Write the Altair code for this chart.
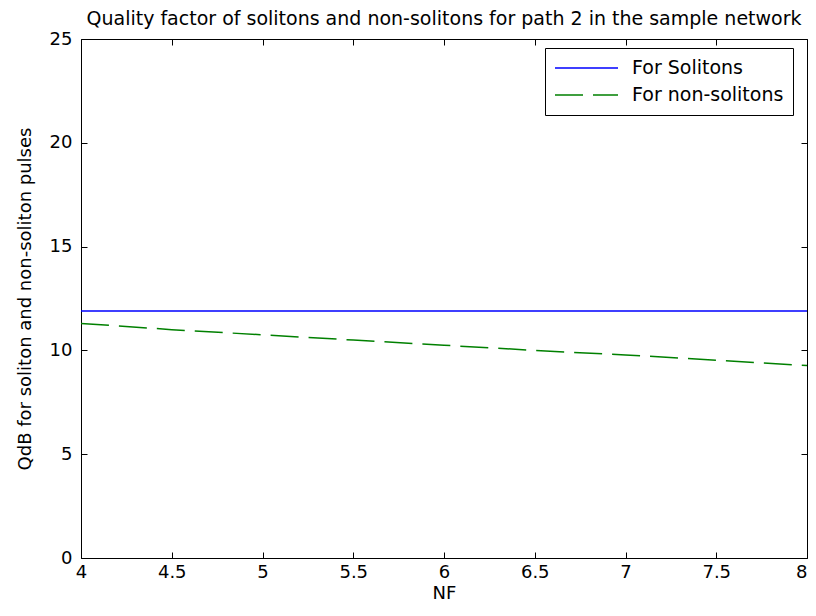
import altair as alt
import pandas as pd

nf = [4, 4.5, 5, 5.5, 6, 6.5, 7, 7.5, 8]
q_solitons = [11.9, 11.9, 11.9, 11.9, 11.9, 11.9, 11.9, 11.9, 11.9]
q_non_solitons = [11.3, 11.0, 10.75, 10.5, 10.25, 10.0, 9.78, 9.53, 9.27]
series_names = ["For Solitons", "For non-solitons"]
x_ticks = [4, 4.5, 5, 5.5, 6, 6.5, 7, 7.5, 8]
y_ticks = [0, 5, 10, 15, 20, 25]

rows = []
for x, v in zip(nf, q_solitons):
    rows.append({"NF": x, "Q": v, "series": series_names[0]})
for x, v in zip(nf, q_non_solitons):
    rows.append({"NF": x, "Q": v, "series": series_names[1]})
df = pd.DataFrame(rows)

FONT = "DejaVu Sans"

legend = alt.Legend(
    title=None, orient="none", legendX=464, legendY=9,
    strokeColor="black", fillColor="white", padding=9,
    symbolType="stroke", symbolSize=3969, symbolStrokeWidth=1.5,
    labelFont=FONT, labelFontSize=19, labelColor="black",
    labelOffset=13, clipHeight=22, rowPadding=5, cornerRadius=0,
)

xs = alt.Scale(domain=[4, 8], nice=False, zero=False)
ys = alt.Scale(domain=[0, 25], nice=False)

lines = alt.Chart(df).mark_line(strokeWidth=1.5).encode(
    x=alt.X("NF:Q", scale=xs, title="NF", axis=alt.Axis(
        values=x_ticks, format="~g", offset=-6, tickSize=6, domain=False, grid=False,
        tickColor="black", labelColor="black", labelFont=FONT, labelFontSize=18,
        labelPadding=5, titleFont=FONT, titleFontSize=18, titleFontWeight="normal",
        titleColor="black", titlePadding=3, labelFlush=False,
        labelAlign=alt.condition("datum.value >= 8", alt.value("right"), alt.value("center")))),
    y=alt.Y("Q:Q", scale=ys, title="QdB for soliton and non-soliton pulses", axis=alt.Axis(
        values=y_ticks, offset=-6, tickSize=6, domain=False, grid=False,
        tickColor="black", labelColor="black", labelFont=FONT, labelFontSize=18,
        labelPadding=9, titleFont=FONT, titleFontSize=18, titleFontWeight="normal",
        titleColor="black", titlePadding=15)),
    color=alt.Color("series:N", scale=alt.Scale(domain=series_names, range=["#0000ff", "#008000"]), legend=legend),
    strokeDash=alt.StrokeDash("series:N", scale=alt.Scale(domain=series_names, range=[[1, 0], [28, 10]]), legend=legend),
)

frame = alt.Chart(df).mark_line(opacity=0).encode(
    x=alt.X("NF:Q", scale=xs, axis=alt.Axis(
        orient="top", values=x_ticks, offset=-6, tickSize=6, domain=False, grid=False,
        labels=False, tickColor="black", title=None)),
    y=alt.Y("Q:Q", scale=ys, axis=alt.Axis(
        orient="right", values=y_ticks, offset=-6, tickSize=6, domain=False, grid=False,
        labels=False, tickColor="black", title=None)),
    detail="series:N",
)

chart = alt.layer(lines, frame).resolve_axis(x="independent", y="independent").properties(
    width=726, height=519,
    autosize=alt.AutoSizeParams(type="none"),
    padding={"left": 73, "top": 31, "right": 1, "bottom": 50},
    background="white",
    title=alt.Title(
        "Quality factor of solitons and non-solitons for path 2 in the sample network",
        font=FONT, fontSize=19, fontWeight="normal", color="black",
        anchor="middle", offset=1),
).configure_view(stroke="black", strokeWidth=1)

chart.save("out.html", embed_options={"renderer": "svg", "actions": False})
